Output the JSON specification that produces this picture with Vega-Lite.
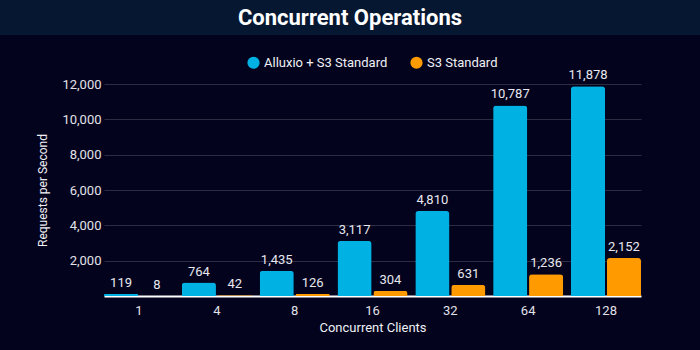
{
  "$schema": "https://vega.github.io/schema/vega-lite/v6.json",
  "background": "#03031e",
  "padding": {"left": 0, "top": 0, "right": 0, "bottom": 16},
  "autosize": {"type": "pad"},
  "bounds": "flush",
  "spacing": 49,
  "resolve": {"scale": {"color": "independent"}, "legend": {"color": "independent"}},
  "config": {
    "view": {"stroke": null},
    "font": "Roboto",
    "legend": {"layout": {"top": {"anchor": "middle"}}}
  },
  "vconcat": [
    {
      "width": 700,
      "height": 35,
      "view": {"fill": "#061731", "stroke": null},
      "data": {"values": [{"title": "Concurrent Operations"}]},
      "mark": {"type": "text", "fontSize": 22, "fontWeight": "bold", "color": "#ffffff", "font": "Roboto", "baseline": "middle", "align": "center"},
      "encoding": {"text": {"field": "title"}}
    },
    {
      "bounds": "flush",
      "spacing": 0,
      "resolve": {"scale": {"color": "independent"}, "legend": {"color": "independent"}},
      "hconcat": [
        {
          "width": 104,
          "height": 212,
          "data": {"values": []},
          "mark": "rect",
          "encoding": {}
        },
        {
          "width": 537,
          "height": 212,
          "data": {
            "values": [
              {"clients": 1, "series": "Alluxio + S3 Standard", "rps": 119},
              {"clients": 1, "series": "S3 Standard", "rps": 8},
              {"clients": 4, "series": "Alluxio + S3 Standard", "rps": 764},
              {"clients": 4, "series": "S3 Standard", "rps": 42},
              {"clients": 8, "series": "Alluxio + S3 Standard", "rps": 1435},
              {"clients": 8, "series": "S3 Standard", "rps": 126},
              {"clients": 16, "series": "Alluxio + S3 Standard", "rps": 3117},
              {"clients": 16, "series": "S3 Standard", "rps": 304},
              {"clients": 32, "series": "Alluxio + S3 Standard", "rps": 4810},
              {"clients": 32, "series": "S3 Standard", "rps": 631},
              {"clients": 64, "series": "Alluxio + S3 Standard", "rps": 10787},
              {"clients": 64, "series": "S3 Standard", "rps": 1236},
              {"clients": 128, "series": "Alluxio + S3 Standard", "rps": 11878},
              {"clients": 128, "series": "S3 Standard", "rps": 2152}
            ]
          },
          "encoding": {
            "x": {
              "field": "clients",
              "type": "ordinal",
              "scale": {"paddingInner": 0.1, "paddingOuter": 0},
              "axis": {
                "title": "Concurrent Clients",
                "labelAngle": 0,
                "labelColor": "#e2e2e8",
                "labelFontSize": 13,
                "labelPadding": 8,
                "ticks": false,
                "domainColor": "#ffffff",
                "domainWidth": 2,
                "titleColor": "#f0f0f4",
                "titleFontSize": 13,
                "titleFontWeight": "normal",
                "titlePadding": 4,
                "grid": false
              }
            },
            "xOffset": {"field": "series", "type": "nominal", "scale": {"paddingInner": 0.05, "paddingOuter": 0}},
            "y": {
              "field": "rps",
              "type": "quantitative",
              "scale": {"domain": [0, 12000], "nice": false},
              "axis": {
                "title": "Requests per Second",
                "values": [0, 2000, 4000, 6000, 8000, 10000, 12000],
                "labelExpr": "datum.value == 0 ? '' : format(datum.value, ',')",
                "domain": false,
                "ticks": false,
                "labelColor": "#e2e2e8",
                "labelFontSize": 13,
                "labelPadding": 3,
                "gridColor": "#2c2c42",
                "gridWidth": 1,
                "titleColor": "#f0f0f4",
                "titleFontSize": 12,
                "titleFontWeight": "normal",
                "titlePadding": 12
              }
            }
          },
          "layer": [
            {
              "mark": {"type": "bar", "cornerRadiusTopLeft": 3, "cornerRadiusTopRight": 3},
              "encoding": {
                "color": {
                  "field": "series",
                  "type": "nominal",
                  "scale": {"domain": ["Alluxio + S3 Standard", "S3 Standard"], "range": ["#00b2e3", "#ff9a00"]},
                  "legend": {
                    "title": null,
                    "orient": "top",
                    "direction": "horizontal",
                    "symbolType": "circle",
                    "symbolSize": 150,
                    "symbolStrokeWidth": 0,
                    "labelColor": "#f0f0f4",
                    "labelFontSize": 13,
                    "columnPadding": 22,
                    "offset": 14
                  }
                }
              }
            },
            {
              "mark": {"type": "text", "baseline": "bottom", "dy": -4, "fontSize": 13, "color": "#e8e8ee"},
              "encoding": {
                "text": {"field": "rps", "type": "quantitative", "format": ","}
              }
            }
          ]
        }
      ]
    }
  ]
}
